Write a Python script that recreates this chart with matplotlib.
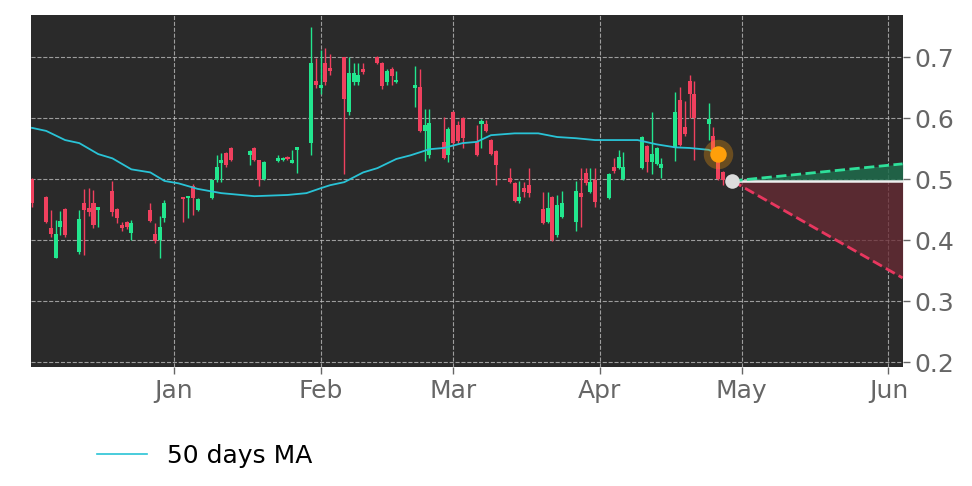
import numpy as np
import pandas as pd
import matplotlib
matplotlib.use('Agg')
import matplotlib.pyplot as plt
import matplotlib.dates as mdates
from matplotlib.lines import Line2D

# daily candles (trading days)
dates = ['2022-12-02', '2022-12-05', '2022-12-06', '2022-12-07', '2022-12-08', '2022-12-09',
         '2022-12-12', '2022-12-13', '2022-12-14', '2022-12-15', '2022-12-16',
         '2022-12-19', '2022-12-20', '2022-12-21', '2022-12-22', '2022-12-23',
         '2022-12-27', '2022-12-28', '2022-12-29', '2022-12-30',
         '2023-01-03', '2023-01-04', '2023-01-05', '2023-01-06',
         '2023-01-09', '2023-01-10', '2023-01-11', '2023-01-12', '2023-01-13',
         '2023-01-17', '2023-01-18', '2023-01-19', '2023-01-20',
         '2023-01-23', '2023-01-24', '2023-01-25', '2023-01-26', '2023-01-27',
         '2023-01-30', '2023-01-31', '2023-02-01', '2023-02-02', '2023-02-03',
         '2023-02-06', '2023-02-07', '2023-02-08', '2023-02-09', '2023-02-10',
         '2023-02-13', '2023-02-14', '2023-02-15', '2023-02-16', '2023-02-17',
         '2023-02-21', '2023-02-22', '2023-02-23', '2023-02-24',
         '2023-02-27', '2023-02-28', '2023-03-01', '2023-03-02', '2023-03-03',
         '2023-03-06', '2023-03-07', '2023-03-08', '2023-03-09', '2023-03-10',
         '2023-03-13', '2023-03-14', '2023-03-15', '2023-03-16', '2023-03-17',
         '2023-03-20', '2023-03-21', '2023-03-22', '2023-03-23', '2023-03-24',
         '2023-03-27', '2023-03-28', '2023-03-29', '2023-03-30', '2023-03-31',
         '2023-04-03', '2023-04-04', '2023-04-05', '2023-04-06',
         '2023-04-10', '2023-04-11', '2023-04-12', '2023-04-13', '2023-04-14',
         '2023-04-17', '2023-04-18', '2023-04-19', '2023-04-20', '2023-04-21',
         '2023-04-24', '2023-04-25', '2023-04-26', '2023-04-27']

opens = [0.500, 0.470, 0.420, 0.370, 0.421, 0.451,
         0.380, 0.461, 0.452, 0.461, 0.450,
         0.480, 0.451, 0.425, 0.430, 0.411,
         0.449, 0.410, 0.400, 0.436,
         0.471, 0.469, 0.489, 0.449,
         0.469, 0.498, 0.527, 0.543, 0.551,
         0.539, 0.551, 0.531, 0.500,
         0.530, 0.531, 0.536, 0.527, 0.548,
         0.559, 0.661, 0.650, 0.690, 0.682,
         0.700, 0.610, 0.659, 0.659, 0.680,
         0.700, 0.690, 0.659, 0.680, 0.659,
         0.650, 0.651, 0.579, 0.539,
         0.561, 0.539, 0.610, 0.589, 0.600,
         0.561, 0.590, 0.590, 0.564, 0.546,
         0.502, 0.493, 0.464, 0.485, 0.490,
         0.451, 0.430, 0.470, 0.408, 0.438,
         0.430, 0.477, 0.510, 0.479, 0.498,
         0.469, 0.520, 0.518, 0.500,
         0.518, 0.554, 0.528, 0.525, 0.518,
         0.551, 0.630, 0.585, 0.661, 0.639,
         0.590, 0.570, 0.539, 0.511]

highs = [0.502, 0.472, 0.449, 0.433, 0.448, 0.452,
         0.449, 0.484, 0.485, 0.482, 0.452,
         0.497, 0.452, 0.430, 0.432, 0.433,
         0.461, 0.428, 0.440, 0.466,
         0.471, 0.471, 0.492, 0.469,
         0.500, 0.539, 0.543, 0.545, 0.553,
         0.548, 0.553, 0.532, 0.530,
         0.539, 0.536, 0.538, 0.547, 0.551,
         0.749, 0.698, 0.711, 0.715, 0.705,
         0.700, 0.700, 0.690, 0.690, 0.690,
         0.702, 0.692, 0.680, 0.683, 0.677,
         0.685, 0.680, 0.615, 0.615,
         0.602, 0.585, 0.612, 0.595, 0.602,
         0.589, 0.598, 0.597, 0.566, 0.548,
         0.518, 0.495, 0.497, 0.495, 0.518,
         0.479, 0.479, 0.472, 0.474, 0.480,
         0.497, 0.518, 0.518, 0.518, 0.518,
         0.510, 0.534, 0.548, 0.544,
         0.571, 0.556, 0.610, 0.553, 0.534,
         0.643, 0.651, 0.628, 0.671, 0.660,
         0.625, 0.585, 0.541, 0.513]

lows = [0.455, 0.428, 0.405, 0.370, 0.408, 0.405,
        0.378, 0.375, 0.440, 0.420, 0.421,
        0.440, 0.428, 0.415, 0.418, 0.400,
        0.430, 0.396, 0.370, 0.430,
        0.430, 0.436, 0.441, 0.447,
        0.468, 0.495, 0.495, 0.520, 0.530,
        0.523, 0.530, 0.488, 0.499,
        0.528, 0.530, 0.531, 0.526, 0.510,
        0.539, 0.650, 0.640, 0.655, 0.670,
        0.508, 0.605, 0.655, 0.655, 0.672,
        0.688, 0.648, 0.655, 0.654, 0.658,
        0.618, 0.578, 0.530, 0.535,
        0.533, 0.528, 0.555, 0.560, 0.551,
        0.538, 0.551, 0.577, 0.540, 0.490,
        0.493, 0.462, 0.461, 0.470, 0.470,
        0.426, 0.428, 0.398, 0.405, 0.436,
        0.415, 0.421, 0.490, 0.477, 0.454,
        0.467, 0.510, 0.516, 0.498,
        0.516, 0.511, 0.508, 0.523, 0.502,
        0.530, 0.555, 0.570, 0.600, 0.531,
        0.564, 0.537, 0.498, 0.490]

closes = [0.461, 0.430, 0.410, 0.410, 0.431, 0.408,
          0.434, 0.449, 0.446, 0.425, 0.452,
          0.446, 0.436, 0.420, 0.421, 0.428,
          0.431, 0.398, 0.421, 0.461,
          0.467, 0.471, 0.469, 0.467,
          0.498, 0.520, 0.529, 0.523, 0.531,
          0.546, 0.531, 0.498, 0.528,
          0.532, 0.534, 0.533, 0.529, 0.550,
          0.690, 0.654, 0.652, 0.659, 0.677,
          0.631, 0.674, 0.674, 0.670, 0.675,
          0.690, 0.652, 0.677, 0.669, 0.661,
          0.652, 0.579, 0.589, 0.592,
          0.534, 0.582, 0.559, 0.562, 0.567,
          0.539, 0.595, 0.579, 0.541, 0.523,
          0.495, 0.464, 0.470, 0.479, 0.477,
          0.428, 0.452, 0.400, 0.457, 0.461,
          0.480, 0.470, 0.493, 0.495, 0.462,
          0.508, 0.513, 0.536, 0.520,
          0.569, 0.528, 0.541, 0.551, 0.525,
          0.610, 0.556, 0.574, 0.639, 0.600,
          0.598, 0.539, 0.500, 0.498]

# 50 day moving average, read at points along the line
ma_dates = ['2022-12-02', '2022-12-05', '2022-12-09', '2022-12-12', '2022-12-16', '2022-12-19',
            '2022-12-23', '2022-12-27', '2022-12-30', '2023-01-02', '2023-01-06', '2023-01-11',
            '2023-01-18', '2023-01-25', '2023-01-29', '2023-02-01', '2023-02-03', '2023-02-06',
            '2023-02-10', '2023-02-13', '2023-02-17', '2023-02-20', '2023-02-24', '2023-02-27',
            '2023-03-03', '2023-03-06', '2023-03-09', '2023-03-14', '2023-03-19', '2023-03-23',
            '2023-03-27', '2023-03-31', '2023-04-09', '2023-04-13', '2023-04-17', '2023-04-20',
            '2023-04-24', '2023-04-26']
ma_vals = [0.584, 0.579, 0.564, 0.559, 0.541, 0.534,
           0.516, 0.511, 0.497, 0.493, 0.484, 0.477,
           0.472, 0.474, 0.477, 0.485, 0.490, 0.495,
           0.511, 0.518, 0.533, 0.539, 0.549, 0.551,
           0.559, 0.561, 0.572, 0.575, 0.575, 0.569,
           0.567, 0.564, 0.564, 0.557, 0.552, 0.551,
           0.548, 0.541]

# projection cone
last_date = '2023-04-29'
last_price = 0.497
proj_end = '2023-06-04'
proj_high = 0.525
proj_low = 0.338

GREEN = '#22e68e'
RED = '#f0405e'

fig = plt.figure(figsize=(9.72, 4.86), dpi=100)
ax = fig.add_axes([31/972, 1-367/486, (903-31)/972, (367-15)/486])
ax.set_facecolor('#2a2a2a')

d = mdates.date2num(pd.to_datetime(dates))
o = np.array(opens); h = np.array(highs); l = np.array(lows); c = np.array(closes)
up = c >= o
cols = np.where(up, GREEN, RED)

ax.vlines(d, l, h, colors=cols, linewidth=1.0, zorder=3)
body_bot = np.minimum(o, c)
body_h = np.maximum(np.abs(c - o), 0.004)
ax.bar(d, body_h, bottom=body_bot, width=0.85, color=cols, linewidth=0, zorder=4)

md = mdates.date2num(pd.to_datetime(ma_dates))
ax.plot(md, ma_vals, color='#29c3d6', linewidth=1.3, zorder=5)

# projection
x0 = mdates.date2num(pd.Timestamp(last_date))
x1 = mdates.date2num(pd.Timestamp(proj_end))
ax.fill_between([x0, x1], [last_price, last_price], [last_price, proj_high],
                color='#1f6b4c', alpha=0.85, linewidth=0, zorder=2)
ax.fill_between([x0, x1], [last_price, last_price], [last_price, proj_low],
                color='#6a2a34', alpha=0.75, linewidth=0, zorder=2)
ax.plot([x0, x1], [last_price, last_price], color='#eeeeee', linewidth=1.8, zorder=6)
ax.plot([x0, x1], [last_price, proj_high], color='#2ee09a', linewidth=2, linestyle='--', zorder=6)
ax.plot([x0, x1], [last_price, proj_low], color='#e8375f', linewidth=2, linestyle='--', zorder=6)

# markers
ax.scatter([md[-1]], [ma_vals[-1]], s=450, color='#ff9f0a', alpha=0.3, linewidth=0, zorder=7)
ax.scatter([md[-1]], [ma_vals[-1]], s=140, color='#ff9f0a', linewidth=0, zorder=8)
ax.scatter([x0], [last_price], s=110, color='#dcdcdc', linewidth=0, zorder=8)

ax.set_xlim(pd.Timestamp('2022-12-01 19:00'), pd.Timestamp('2023-06-04 02:00'))
ax.set_ylim(0.192, 0.769)
ax.xaxis.set_major_locator(mdates.MonthLocator())
ax.xaxis.set_major_formatter(mdates.DateFormatter('%b'))
ax.yaxis.tick_right()
ax.set_yticks([0.2, 0.3, 0.4, 0.5, 0.6, 0.7])
ax.set_yticklabels(['0.2', '0.3', '0.4', '0.5', '0.6', '0.7'])
ax.tick_params(axis='both', colors='#666666', labelsize=18, length=5, width=1)
ax.tick_params(axis='y', pad=3)
ax.grid(True, color='#bbbbbb', linestyle='--', linewidth=0.8, alpha=0.8)
ax.set_axisbelow(True)
for s in ax.spines.values():
    s.set_visible(False)

handle = Line2D([], [], color='#29c3d6', linewidth=1.2)
fig.legend([handle], ['50 days MA'], loc='center left', bbox_to_anchor=(0.077, 0.062),
           frameon=False, fontsize=18, handlelength=2.0, handletextpad=0.8)

fig.savefig('out.png', dpi=100)
